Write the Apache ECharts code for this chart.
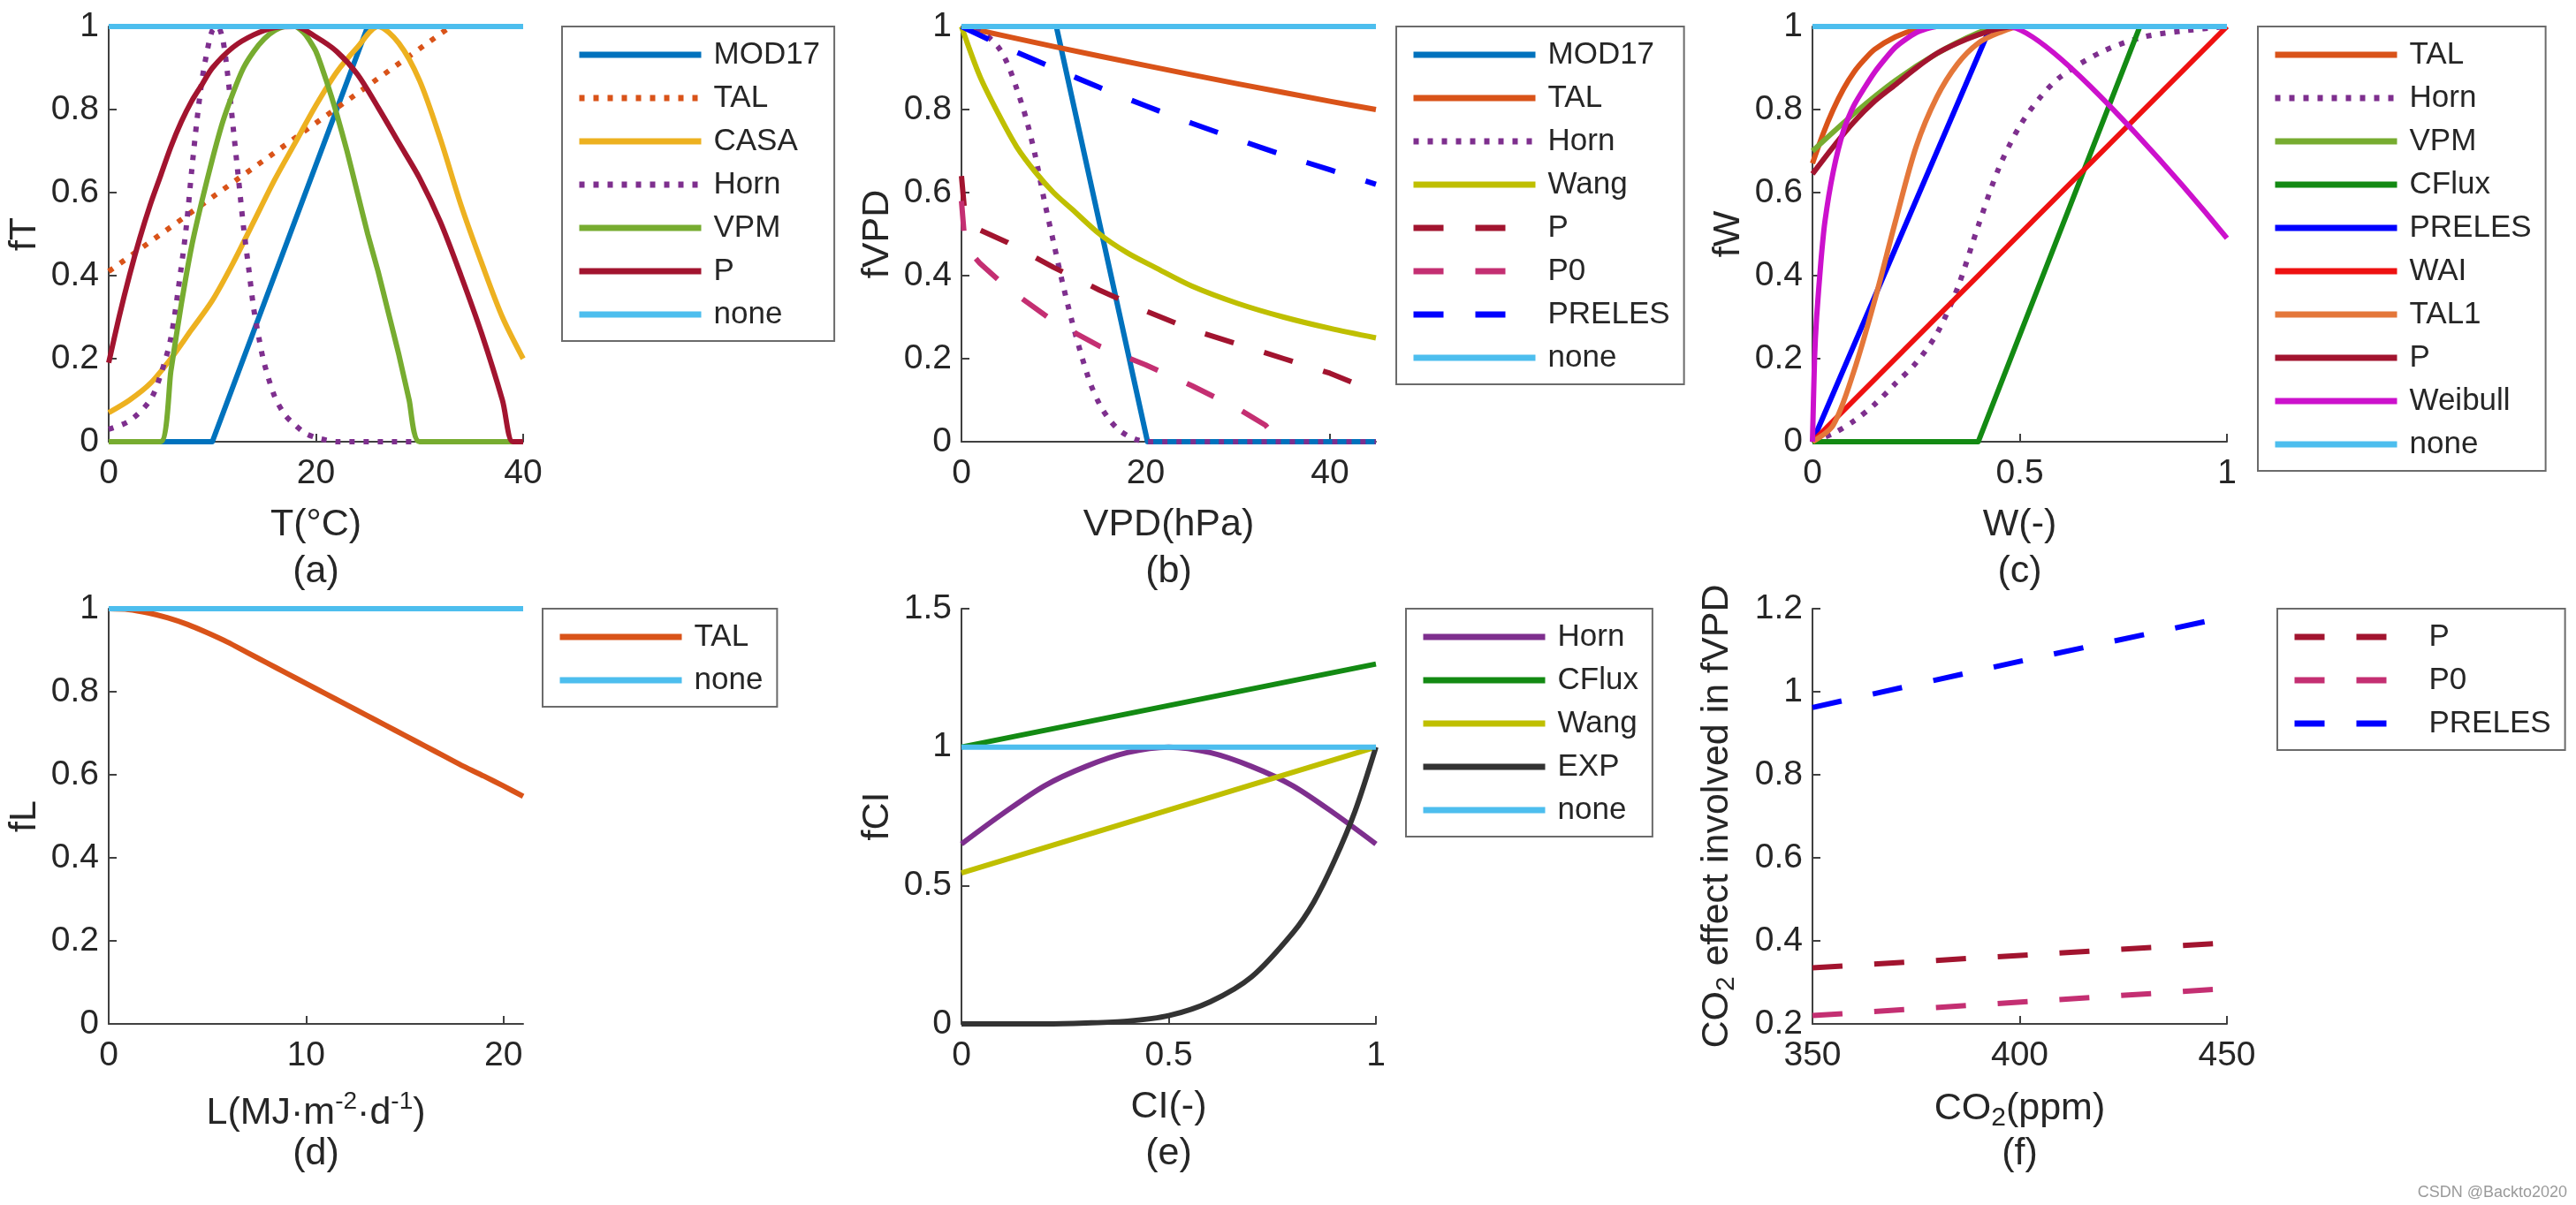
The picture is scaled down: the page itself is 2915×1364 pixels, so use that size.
<!DOCTYPE html>
<html><head><meta charset="utf-8">
<script src="https://cdn.jsdelivr.net/npm/echarts@6/dist/echarts.min.js"></script>
<style>html,body{margin:0;padding:0;background:#fff}#c{width:2915px;height:1364px}</style>
</head><body><div id="c"></div><script>
// ---------- DATA ----------
// (a) fT vs T(°C)
const aMOD17 = [[0,0],[10,0],[25,1],[40,1]];
const aTAL   = [[0,0.41],[33,1],[40,1]];
const aCASA  = [[0,0.07],[2,0.1],[4,0.14],[6,0.2],[8,0.27],[10,0.34],[12,0.43],[14,0.53],[16,0.63],[18,0.72],[20,0.81],[22,0.89],[24,0.95],[26,1.0],[28,0.96],[30,0.87],[32,0.73],[34,0.57],[36,0.43],[38,0.3],[40,0.2]];
const aHorn  = [[0,0.03],[2,0.05],[4,0.1],[5,0.16],[6,0.25],[7,0.42],[7.5,0.52],[8,0.65],[8.5,0.77],[9,0.87],[9.5,0.94],[10,0.99],[10.5,1.0],[11,0.97],[11.5,0.88],[12,0.76],[12.5,0.64],[13,0.52],[13.5,0.42],[14,0.32],[14.5,0.25],[15,0.19],[16,0.11],[17,0.065],[18,0.04],[19,0.02],[20,0.01],[21,0.004],[22,0],[40,0]];
const aVPM   = [[0,0],[5,0],[6,0.17],[7,0.33],[8,0.47],[9,0.58],[10,0.68],[11,0.77],[12,0.84],[13,0.9],[14,0.94],[15,0.97],[16,0.99],[17,1.0],[18,1.0],[19,0.98],[20,0.94],[21,0.87],[22,0.79],[23,0.7],[24,0.6],[25,0.5],[26,0.41],[27,0.31],[28,0.21],[29,0.1],[30,0],[40,0]];
const aP     = [[0,0.19],[1,0.3],[2,0.4],[3,0.49],[4,0.57],[5,0.64],[6,0.71],[7,0.77],[8,0.82],[9,0.86],[10,0.9],[12,0.95],[14,0.98],[16,0.997],[18,1.0],[20,0.975],[22,0.94],[24,0.885],[26,0.805],[28,0.72],[30,0.635],[32,0.53],[34,0.4],[36,0.26],[38,0.1],[39,0],[40,0]];
const aNone  = [[0,1],[40,1]];
// (b) fVPD vs VPD(hPa)
const bMOD17  = [[0,1],[10.3,1],[20.2,0],[45,0]];
const bTAL    = [[0,1],[10,0.952],[20,0.906],[30,0.862],[40,0.82],[45,0.8]];
const bHorn   = [[0,1],[2,0.99],[4,0.95],[5,0.91],[6,0.85],[7,0.78],[8,0.69],[9,0.58],[10,0.48],[11,0.38],[12,0.29],[13,0.21],[14,0.14],[15,0.09],[16,0.055],[17,0.03],[18,0.015],[19,0.005],[20,0],[45,0]];
const bWang   = [[0,1],[2,0.88],[4,0.79],[6,0.71],[8,0.65],[10,0.6],[12,0.56],[15,0.5],[18,0.455],[21,0.42],[25,0.375],[30,0.333],[35,0.3],[40,0.273],[45,0.25]];
const bP      = [[0,0.64],[0.4,0.54],[2,0.51],[5,0.48],[10,0.42],[15,0.365],[20,0.315],[25,0.27],[30,0.235],[35,0.2],[40,0.165],[45,0.12]];
const bP0     = [[0,0.58],[0.4,0.47],[2,0.43],[5,0.37],[10,0.29],[15,0.23],[20,0.185],[25,0.135],[30,0.08],[33,0.04],[34.5,0]];
const bPRELES = [[0,1],[5,0.948],[10,0.9],[15,0.853],[20,0.809],[25,0.767],[30,0.728],[35,0.69],[40,0.655],[45,0.62]];
const bNone   = [[0,1],[45,1]];
// (c) fW vs W(-)
const cTAL     = [[0,0.67],[0.025,0.74],[0.05,0.8],[0.075,0.85],[0.1,0.89],[0.125,0.92],[0.15,0.945],[0.2,0.975],[0.25,0.993],[0.3,1],[1,1]];
const cHorn    = [[0,0],[0.05,0.02],[0.1,0.05],[0.15,0.09],[0.2,0.14],[0.25,0.19],[0.3,0.26],[0.35,0.37],[0.4,0.52],[0.45,0.66],[0.5,0.76],[0.55,0.83],[0.6,0.88],[0.7,0.94],[0.8,0.975],[0.9,0.99],[1,1]];
const cVPM     = [[0,0.7],[0.1,0.79],[0.2,0.87],[0.3,0.935],[0.4,0.985],[0.45,1],[1,1]];
const cCFlux   = [[0,0],[0.4,0],[0.79,1],[1,1]];
const cPRELES  = [[0,0],[0.43,1],[1,1]];
const cWAI     = [[0,0],[1,1]];
const cTAL1    = [[0,0],[0.05,0.04],[0.1,0.17],[0.15,0.34],[0.2,0.53],[0.25,0.71],[0.3,0.83],[0.35,0.91],[0.4,0.96],[0.45,0.985],[0.5,1],[1,1]];
const cP       = [[0,0.645],[0.05,0.71],[0.1,0.77],[0.15,0.82],[0.2,0.86],[0.25,0.9],[0.3,0.935],[0.35,0.96],[0.4,0.98],[0.45,0.995],[0.5,1],[1,1]];
const cWeibull = [[0,0],[0.005,0.2],[0.01,0.3],[0.02,0.43],[0.03,0.53],[0.05,0.65],[0.075,0.75],[0.1,0.81],[0.15,0.89],[0.2,0.95],[0.25,0.985],[0.3,1],[0.47,1],[1,0.49]];
const cNone    = [[0,1],[1,1]];
// (d) fL vs L
const dTAL  = [[0,1],[1,0.998],[2,0.99],[3,0.978],[4,0.962],[5,0.942],[6,0.92],[7,0.895],[8,0.87],[9,0.845],[10,0.82],[11,0.795],[12,0.77],[13,0.745],[14,0.72],[15,0.695],[16,0.67],[17,0.645],[18,0.62],[19,0.597],[20,0.573],[21,0.548]];
const dNone = [[0,1],[21,1]];
// (e) fCI vs CI(-)
const eHorn  = [[0,0.65],[0.1,0.76],[0.2,0.86],[0.3,0.93],[0.4,0.98],[0.5,1],[0.6,0.98],[0.7,0.93],[0.8,0.86],[0.9,0.76],[1,0.65]];
const eCFlux = [[0,1],[1,1.3]];
const eWang  = [[0,0.545],[1,1]];
const eEXP   = [[0,0],[0.2,0],[0.3,0.003],[0.4,0.01],[0.5,0.03],[0.6,0.08],[0.7,0.17],[0.8,0.33],[0.85,0.44],[0.9,0.59],[0.95,0.77],[1,1]];
const eNone  = [[0,1],[1,1]];
// (f) CO2 effect vs CO2(ppm)
const fP      = [[350,0.335],[450,0.395]];
const fP0     = [[350,0.22],[450,0.285]];
const fPRELES = [[350,0.962],[400,1.073],[450,1.18]];
// ticks
const ticksTa = [0,20,40], ticksVPD = [0,20,40], ticksW = [0,0.5,1], ticksL = [0,10,20], ticksCI = [0,0.5,1], ticksCO2 = [350,400,450];
const ticks01 = [0,0.2,0.4,0.6,0.8,1], ticksE = [0,0.5,1,1.5], ticksF = [0.2,0.4,0.6,0.8,1,1.2];

// ---------- STYLE ----------
const FONT = "'Liberation Sans', Arial, Helvetica, sans-serif";
const TXT = '#262626', AX = '#404040';
const FS_T = 39, FS_L = 35, FS_N = 43;
const DOT = [6,10], DASH = [34,36];
const C = {blue:'#0072BD', orange:'#D95319', yellow:'#EDB120', purple:'#7E2F8E', green:'#77AC30', cyan:'#4DBEEE', dred:'#A2142F',
  wang:'#BFBF00', p0:'#C42F72', preles:'#0000FF', cflux:'#138A13', wai:'#EE1111', tal1:'#E4773A', weib:'#CC11CC', exp:'#333333'};

const GL = [123, 1088, 2051], GT = [30, 689], GW = 469, GH = 470;
const grids = [];
for (let r = 0; r < 2; r++) for (let c = 0; c < 3; c++) grids.push({left: GL[c], top: GT[r], width: GW, height: GH, containLabel: false});

function xAx(i, min, max, ticks, name, rich, gap) {
  return {type:'value', gridIndex:i, min, max, interval: ticks[1]-ticks[0],
    name, nameLocation:'middle', nameGap: gap,
    nameTextStyle:{fontSize:FS_N, color:TXT, fontFamily:FONT, rich: rich},
    axisLine:{show:true, onZero:false, lineStyle:{color:AX, width:2}},
    axisTick:{show:true, inside:true, length:9, customValues: ticks, lineStyle:{color:AX, width:2}},
    axisLabel:{fontSize:FS_T, color:TXT, fontFamily:FONT, margin:17, customValues: ticks},
    splitLine:{show:false}};
}
function yAx(i, min, max, ticks, name, rich, gap) {
  return {type:'value', gridIndex:i, min, max, interval: +(ticks[1]-ticks[0]).toFixed(6),
    name, nameLocation:'middle', nameGap: gap,
    nameTextStyle:{fontSize:FS_N, color:TXT, fontFamily:FONT, rich: rich},
    axisLine:{show:true, onZero:false, lineStyle:{color:AX, width:2}},
    axisTick:{show:true, inside:true, length:9, customValues: ticks, lineStyle:{color:AX, width:2}},
    axisLabel:{fontSize:FS_T, color:TXT, fontFamily:FONT, margin:11, customValues: ticks},
    splitLine:{show:false}};
}
const series = [];
const legendNames = [[],[],[],[],[],[]];
function ln(g, key, label, data, color, type, smooth) {
  const name = key + ':' + label;
  legendNames[g].push(name);
  series.push({type:'line', name, xAxisIndex:g, yAxisIndex:g, data, symbol:'none', showSymbol:false,
    smooth: smooth || false, clip:false, silent:true, animation:false,
    lineStyle:{color, width:6, type: type || 'solid', cap:'butt', join:'round'}, itemStyle:{color}});
}
// (a)
ln(0,'a','MOD17',aMOD17,C.blue);
ln(0,'a','TAL',aTAL,C.orange,DOT);
ln(0,'a','CASA',aCASA,C.yellow,null,0.3);
ln(0,'a','Horn',aHorn,C.purple,DOT,0.3);
ln(0,'a','VPM',aVPM,C.green,null,0.2);
ln(0,'a','P',aP,C.dred,null,0.3);
ln(0,'a','none',aNone,C.cyan);
// (b)
ln(1,'b','MOD17',bMOD17,C.blue);
ln(1,'b','TAL',bTAL,C.orange,null,0.3);
ln(1,'b','Horn',bHorn,C.purple,DOT,0.3);
ln(1,'b','Wang',bWang,C.wang,null,0.3);
ln(1,'b','P',bP,C.dred,DASH);
ln(1,'b','P0',bP0,C.p0,DASH);
ln(1,'b','PRELES',bPRELES,C.preles,DASH,0.3);
ln(1,'b','none',bNone,C.cyan);
// (c)
ln(2,'c','TAL',cTAL,C.orange,null,0.3);
ln(2,'c','Horn',cHorn,C.purple,DOT,0.3);
ln(2,'c','VPM',cVPM,C.green,null,0.3);
ln(2,'c','CFlux',cCFlux,C.cflux);
ln(2,'c','PRELES',cPRELES,C.preles);
ln(2,'c','WAI',cWAI,C.wai);
ln(2,'c','TAL1',cTAL1,C.tal1,null,0.3);
ln(2,'c','P',cP,C.dred,null,0.3);
ln(2,'c','Weibull',cWeibull,C.weib,null,0.2);
ln(2,'c','none',cNone,C.cyan);
// (d)
ln(3,'d','TAL',dTAL,C.orange,null,0.3);
ln(3,'d','none',dNone,C.cyan);
// (e)
ln(4,'e','Horn',eHorn,C.purple,null,0.3);
ln(4,'e','CFlux',eCFlux,C.cflux);
ln(4,'e','Wang',eWang,C.wang);
ln(4,'e','EXP',eEXP,C.exp,null,0.3);
ln(4,'e','none',eNone,C.cyan);
// (f)
ln(5,'f','P',fP,C.dred,DASH);
ln(5,'f','P0',fP0,C.p0,DASH);
ln(5,'f','PRELES',fPRELES,C.preles,DASH,0.3);

const LEGPOS = [[636,30],[1580,30],[2555,30],[614,689],[1591,689],[2577,689]];
const legends = legendNames.map((names, i) => ({
  data: names, orient:'vertical', left: LEGPOS[i][0], top: LEGPOS[i][1],
  itemWidth:138, itemHeight:40, itemGap:9, selectedMode:false,
  padding:[12,16,10,16], borderColor:'#6b6b6b', borderWidth:2, backgroundColor:'#fff',
  formatter: n => n.slice(2),
  itemStyle:{opacity:0, borderWidth:0},
  lineStyle:{width:7},
  textStyle:{fontSize:FS_L, color:TXT, fontFamily:FONT, lineHeight:40, padding:[0,0,0,9]}
}));

const nRich = {n:{fontSize:FS_N, color:TXT, fontFamily:FONT}, s:{fontSize:30, color:TXT, fontFamily:FONT, padding:[22,0,0,0]}, u:{fontSize:28, color:TXT, fontFamily:FONT, padding:[0,0,26,0]}};

const xAxes = [
  xAx(0,0,40,ticksTa,'T(°C)',null,73),
  xAx(1,0,45,ticksVPD,'VPD(hPa)',null,73),
  xAx(2,0,1,ticksW,'W(-)',null,73),
  xAx(3,0,21,ticksL,'{n|L(MJ·m}{u|-2}{n|·d}{u|-1}{n|)}',nRich,74),
  xAx(4,0,1,ticksCI,'CI(-)',null,73),
  xAx(5,350,450,ticksCO2,'{n|CO}{s|2}{n|(ppm)}',nRich,70)
];
const yAxes = [
  yAx(0,0,1,ticks01,'fT',null,73),
  yAx(1,0,1,ticks01,'fVPD',null,73),
  yAx(2,0,1,ticks01,'fW',null,73),
  yAx(3,0,1,ticks01,'fL',null,73),
  yAx(4,0,1.5,ticksE,'fCI',null,73),
  yAx(5,0.2,1.2,ticksF,'{n|CO}{s|2}{n| effect involved in fVPD}',nRich,82)
];
const PANEL = ['(a)','(b)','(c)','(d)','(e)','(f)'];
const graphic = PANEL.map((t, i) => ({type:'text', x: GL[i%3] + GW/2, y: (i<3 ? GT[0] : GT[1]) + GH + 147,
  style:{text:t, fill:TXT, font: FS_N + 'px ' + FONT, textAlign:'center', textVerticalAlign:'middle'}, silent:true}));
graphic.push({type:'text', x:2905, y:1350, style:{text:'CSDN @Backto2020', fill:'#9a9a9a', font:'18px ' + FONT, textAlign:'right', textVerticalAlign:'middle'}, silent:true});

const chart = echarts.init(document.getElementById('c'), null, {renderer:'canvas'});
chart.setOption({animation:false, backgroundColor:'#fff', grid:grids, xAxis:xAxes, yAxis:yAxes, series, legend:legends, graphic});
</script></body></html>
